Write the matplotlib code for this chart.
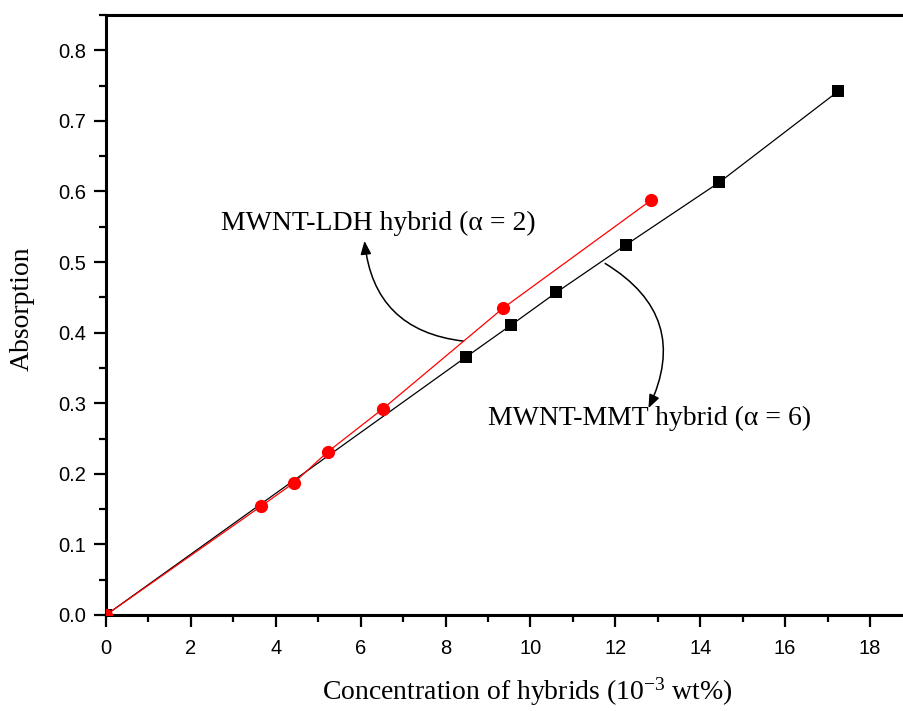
import matplotlib
matplotlib.use("Agg")
import matplotlib.pyplot as plt
from matplotlib.ticker import MultipleLocator, FormatStrFormatter

# data
mmt_conc = [0.0, 8.47, 9.55, 10.61, 12.24, 14.45, 17.25]
mmt_abs = [0.0, 0.365, 0.411, 0.457, 0.524, 0.613, 0.742]
ldh_conc = [0.0, 3.65, 4.42, 5.22, 6.52, 9.36, 12.85]
ldh_abs = [0.0, 0.154, 0.187, 0.231, 0.292, 0.435, 0.588]

ldh_label = "MWNT-LDH hybrid (\u03b1 = 2)"
mmt_label = "MWNT-MMT hybrid (\u03b1 = 6)"

W, H = 904, 711
fig = plt.figure(figsize=(W / 100, H / 100), dpi=100)
ax = fig.add_axes([106 / W, 96 / H, (W - 106) / W, (615 - 15) / H])

serif = "Liberation Serif"
plt.rcParams["mathtext.fontset"] = "custom"
plt.rcParams["mathtext.rm"] = serif
plt.rcParams["mathtext.it"] = serif + ":italic"

ax.plot(mmt_conc, mmt_abs, color="black", lw=0.9, marker="s", ms=8.5,
        markeredgewidth=0, zorder=3)
ax.plot(ldh_conc, ldh_abs, color="red", lw=0.9, marker="o", ms=9.5,
        markeredgewidth=0, zorder=4)

ax.set_xlim(0, (W - 105) / 42.5)
ax.set_ylim(0, 0.85)
ax.xaxis.set_major_locator(MultipleLocator(2))
ax.xaxis.set_minor_locator(MultipleLocator(1))
ax.yaxis.set_major_locator(MultipleLocator(0.1))
ax.yaxis.set_minor_locator(MultipleLocator(0.05))
ax.yaxis.set_major_formatter(FormatStrFormatter("%.1f"))

ax.spines["right"].set_visible(False)
for s in ["left", "bottom", "top"]:
    ax.spines[s].set_linewidth(2.2)
ax.tick_params(which="both", direction="out", width=1.6, top=False, right=False)
ax.tick_params(which="major", length=8.5)
ax.tick_params(which="minor", length=5)
ax.tick_params(axis="x", which="major", pad=9)
ax.tick_params(axis="y", which="major", pad=6)
for lab in ax.get_xticklabels() + ax.get_yticklabels():
    lab.set_fontfamily("Liberation Sans")
    lab.set_fontsize(14.5)

fig.text(22 / W, 1 - 309 / H, "Absorption", rotation=90, ha="center",
         va="center", fontsize=20, family=serif)
fig.text(527 / W, 1 - 692 / H, "Concentration of hybrids (10$^{-3}$ wt%)",
         ha="center", va="center", fontsize=20, family=serif)

ax.text(2.7, 0.555, ldh_label, ha="left", va="center", fontsize=20, family=serif)
ax.text(8.99, 0.278, mmt_label, ha="left", va="center", fontsize=20, family=serif)

arrow = dict(arrowstyle="-|>,head_length=0.5,head_width=0.2", color="black",
             lw=1.1, mutation_scale=16, shrinkA=0, shrinkB=0)
ax.annotate("", xy=(6.09, 0.530), xytext=(8.42, 0.388),
            arrowprops=dict(arrow, connectionstyle="arc3,rad=-0.4"))
ax.annotate("", xy=(12.78, 0.293), xytext=(11.76, 0.498),
            arrowprops=dict(arrow, connectionstyle="arc3,rad=-0.45"))

fig.savefig("out.png", dpi=100)
